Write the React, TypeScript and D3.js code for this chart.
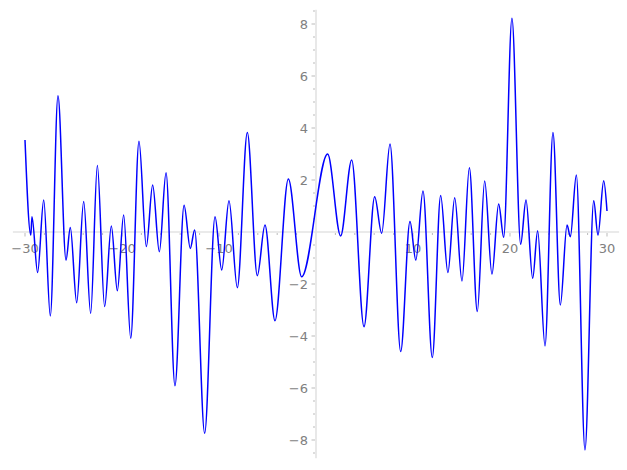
import React from "react";
import * as d3 from "d3";

const xs = [-30, -29.4, -29.28, -28.7, -28.07, -27.39, -26.6, -25.77, -25.33, -24.67, -23.95, -23.23, -22.54, -21.79, -21.1, -20.48, -19.83, -19.1, -18.25, -17.49, -16.84, -16.15, -15.46, -14.54, -13.6, -12.96, -12.51, -11.48, -10.41, -9.72, -8.97, -8.11, -7.08, -6.05, -5.26, -4.23, -2.85, -1.48, 1.2, 2.54, 3.68, 4.95, 6.05, 6.77, 7.63, 8.73, 9.69, 10.29, 11.03, 11.99, 12.85, 13.6, 14.3, 15.05, 15.81, 16.63, 17.39, 18.14, 18.83, 19.35, 20.2, 21.1, 21.65, 22.34, 22.85, 23.61, 24.43, 25.19, 25.88, 26.22, 26.84, 27.73, 28.63, 29.07, 29.66, 30];
const ys = [3.54, -0.12, 0.59, -1.56, 1.23, -3.23, 5.24, -1.08, 0.17, -2.72, 1.17, -3.13, 2.56, -2.87, 0.23, -2.26, 0.65, -4.09, 3.49, -0.56, 1.81, -0.76, 2.28, -5.91, 1.03, -0.63, 0.08, -7.74, 0.59, -1.46, 1.2, -2.14, 3.83, -1.68, 0.27, -3.41, 2.04, -1.72, 3.0, -0.15, 2.77, -3.64, 1.36, -0.05, 3.38, -4.6, 0.4, -1.08, 1.58, -4.83, 1.4, -1.56, 1.32, -1.88, 2.47, -3.06, 1.96, -1.62, 1.08, -0.2, 8.22, -0.47, 1.23, -1.78, 0.05, -4.38, 3.83, -2.81, 0.27, -0.18, 2.19, -8.38, 1.2, -0.12, 1.97, 0.81];

const xMajor = [-30, -20, -10, 10, 20, 30];
const yMajor = [-8, -6, -4, -2, 2, 4, 6, 8];
const xLabels = ["\u221230", "\u221220", "\u221210", "10", "20", "30"];
const yLabels = ["\u22128", "\u22126", "\u22124", "\u22122", "2", "4", "6", "8"];

const W = 627;
const H = 470;

export default function App() {
  const x = d3.scaleLinear().domain([-30, 30]).range([25, 607]);
  const y = d3.scaleLinear().domain([-8, 8]).range([440, 24]);
  const pts: [number, number][] = xs.map((v, i) => [v, ys[i]]);
  const line = d3
    .line<[number, number]>()
    .x((d) => x(d[0]))
    .y((d) => y(d[1]))
    .curve(d3.curveMonotoneX);

  const xMinor = d3.range(-30, 31, 2).filter((v) => v % 10 !== 0);
  const yMinor = d3.range(-8.5, 8.51, 0.5).filter((v) => Math.abs(v % 2) > 1e-6);

  const x0 = x(0);
  const y0 = y(0);
  const axisCol = "#e3e3e3";
  const tickCol = "#aaaaaa";
  const textCol = "#808080";
  const font = "DejaVu Sans, sans-serif";

  return (
    <svg
      width={W}
      height={H}
      style={{ position: "absolute", left: 0, top: 0, background: "#fff" }}
    >
      <rect width={W} height={H} fill="#fff" />
      <line x1={x(-31.25)} x2={x(31.25)} y1={y0} y2={y0} stroke={axisCol} strokeWidth={1.6} />
      <line x1={x0} x2={x0} y1={y(8.55)} y2={y(-8.7)} stroke={axisCol} strokeWidth={1.6} />
      {xMinor.map((v) => (
        <line key={"xm" + v} x1={x(v)} x2={x(v)} y1={y0 + 1} y2={y0 + 3} stroke={tickCol} strokeWidth={0.8} />
      ))}
      {xMajor.map((v) => (
        <line key={"xM" + v} x1={x(v)} x2={x(v)} y1={y0 + 1} y2={y0 + 4.5} stroke={tickCol} strokeWidth={0.8} />
      ))}
      {xMajor.map((v, i) => (
        <text key={"xl" + v} x={x(v)} y={y0 + 21} textAnchor="middle" fontFamily={font} fontSize={13} fill={textCol}>
          {xLabels[i]}
        </text>
      ))}
      {yMinor.map((v) => (
        <line key={"ym" + v} x1={x0 - 3} x2={x0 - 1} y1={y(v)} y2={y(v)} stroke={tickCol} strokeWidth={0.8} />
      ))}
      {yMajor.map((v) => (
        <line key={"yM" + v} x1={x0 - 4.5} x2={x0 - 1} y1={y(v)} y2={y(v)} stroke={tickCol} strokeWidth={0.8} />
      ))}
      {yMajor.map((v, i) => (
        <text key={"yl" + v} x={x0 - 8} y={y(v)} dy="0.36em" textAnchor="end" fontFamily={font} fontSize={13} fill={textCol}>
          {yLabels[i]}
        </text>
      ))}
      <path d={line(pts) || ""} fill="none" stroke="#0000ff" strokeWidth={1.5} />
    </svg>
  );
}
